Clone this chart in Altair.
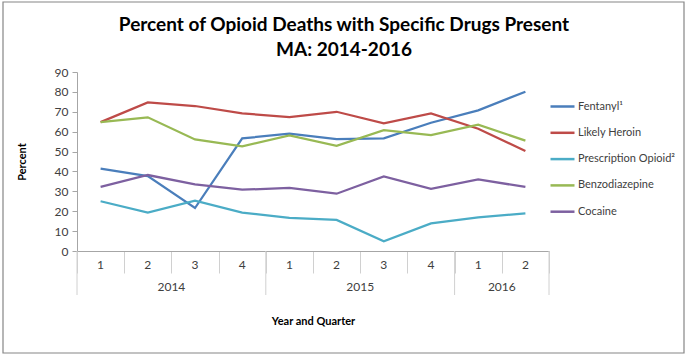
import altair as alt
import pandas as pd

quarters = ["1", "2", "3", "4", "1", "2", "3", "4", "1", "2"]
years = ["2014", "2015", "2016"]
year_quarter_counts = [4, 4, 2]

series_names = ["Fentanyl¹", "Likely Heroin", "Prescription Opioid²", "Benzodiazepine", "Cocaine"]
series_colors = ["#4A7EBB", "#BE4B48", "#4BACC6", "#98B954", "#7D60A0"]

fentanyl = [41.4, 37.7, 21.6, 56.6, 59.0, 56.3, 56.6, 64.5, 70.7, 80.1]
heroin = [64.8, 74.7, 72.9, 69.2, 67.3, 70.0, 64.2, 69.2, 61.5, 50.3]
rx_opioid = [25.0, 19.3, 25.3, 19.3, 16.6, 15.6, 4.9, 13.9, 16.9, 18.9]
benzo = [64.8, 67.2, 56.1, 52.6, 58.1, 52.9, 60.8, 58.3, 63.5, 55.5]
cocaine = [32.2, 38.2, 33.5, 30.8, 31.7, 28.8, 37.5, 31.2, 36.0, 32.2]

all_series = [fentanyl, heroin, rx_opioid, benzo, cocaine]

rows = []
for name, vals in zip(series_names, all_series):
    for i, v in enumerate(vals):
        rows.append({"series": name, "pos": i + 0.5, "value": v})
df = pd.DataFrame(rows)

qdf = pd.DataFrame({"pos": [i + 0.5 for i in range(len(quarters))], "label": quarters})

ycent, bounds = [], [0]
s = 0
for n in year_quarter_counts:
    ycent.append(s + n / 2)
    s += n
    bounds.append(s)
ydf = pd.DataFrame({"pos": ycent, "label": years})
bdf = pd.DataFrame({"pos": bounds})

W, H = 472, 179
FONT = "Lato"

xscale = alt.Scale(domain=[0, len(quarters)], nice=False, zero=False)

lines = alt.Chart(df).mark_line(strokeWidth=2.25).encode(
    x=alt.X("pos:Q", scale=xscale,
            axis=alt.Axis(values=list(range(len(quarters) + 1)), tickSize=22,
                          labels=False, grid=False, domainColor="#A6A6A6",
                          tickColor="#D0D0D0", title="Year and Quarter",
                          titleFont=FONT, titleFontSize=11, titleFontWeight="bold",
                          titleColor="#000000", titleY=70, titleBaseline="middle")),
    y=alt.Y("value:Q", scale=alt.Scale(domain=[0, 90], nice=False),
            axis=alt.Axis(values=list(range(0, 91, 10)), tickSize=5, grid=False,
                          domainColor="#A6A6A6", tickColor="#A6A6A6",
                          labelFont=FONT, labelFontSize=12, labelColor="#404040",
                          labelPadding=4, title="Percent", titleFont=FONT,
                          titleFontSize=11, titleFontWeight="bold", titleColor="#000000",
                          titleX=-55, titleY=H / 2, titleBaseline="middle")),
    color=alt.Color("series:N",
                    scale=alt.Scale(domain=series_names, range=series_colors),
                    sort=series_names,
                    legend=alt.Legend(orient="none", legendX=W, legendY=21, title=None,
                                      symbolType="stroke", symbolSize=576,
                                      symbolStrokeWidth=2.5, labelFont=FONT,
                                      labelFontSize=11, labelColor="#404040",
                                      labelOffset=2, rowPadding=7.3)),
)

qlabels = alt.Chart(qdf).mark_text(font=FONT, fontSize=12, color="#404040",
                                   baseline="middle").encode(
    x=alt.X("pos:Q", scale=xscale), y=alt.value(H + 14), text="label:N")

ylabels = alt.Chart(ydf).mark_text(font=FONT, fontSize=12, color="#404040",
                                   baseline="middle").encode(
    x=alt.X("pos:Q", scale=xscale), y=alt.value(H + 36), text="label:N")

brules = alt.Chart(bdf).mark_rule(color="#D0D0D0", strokeWidth=1).encode(
    x=alt.X("pos:Q", scale=xscale), y=alt.value(H), y2=alt.value(H + 44))

border = alt.Chart(pd.DataFrame({"a": [0]})).mark_rect(
    fill=None, stroke="#868686", strokeWidth=1.2).encode(
    x=alt.value(-74), x2=alt.value(607), y=alt.value(-70), y2=alt.value(281))

chart = alt.layer(border, brules, lines, qlabels, ylabels).properties(
    width=W, height=H,
    title=alt.Title(["Percent of Opioid Deaths with Specific Drugs Present", "MA: 2014-2016"],
                    font=FONT, fontSize=19, fontWeight="bold", color="#000000",
                    anchor="middle", dx=31, lineHeight=25, offset=-59),
    autosize=alt.AutoSizeParams(type="none"),
    padding={"left": 77, "top": 72, "right": 138, "bottom": 106},
    background="white",
).configure_view(stroke=None)

chart.save("out.html", embed_options={"renderer": "svg", "actions": False})
